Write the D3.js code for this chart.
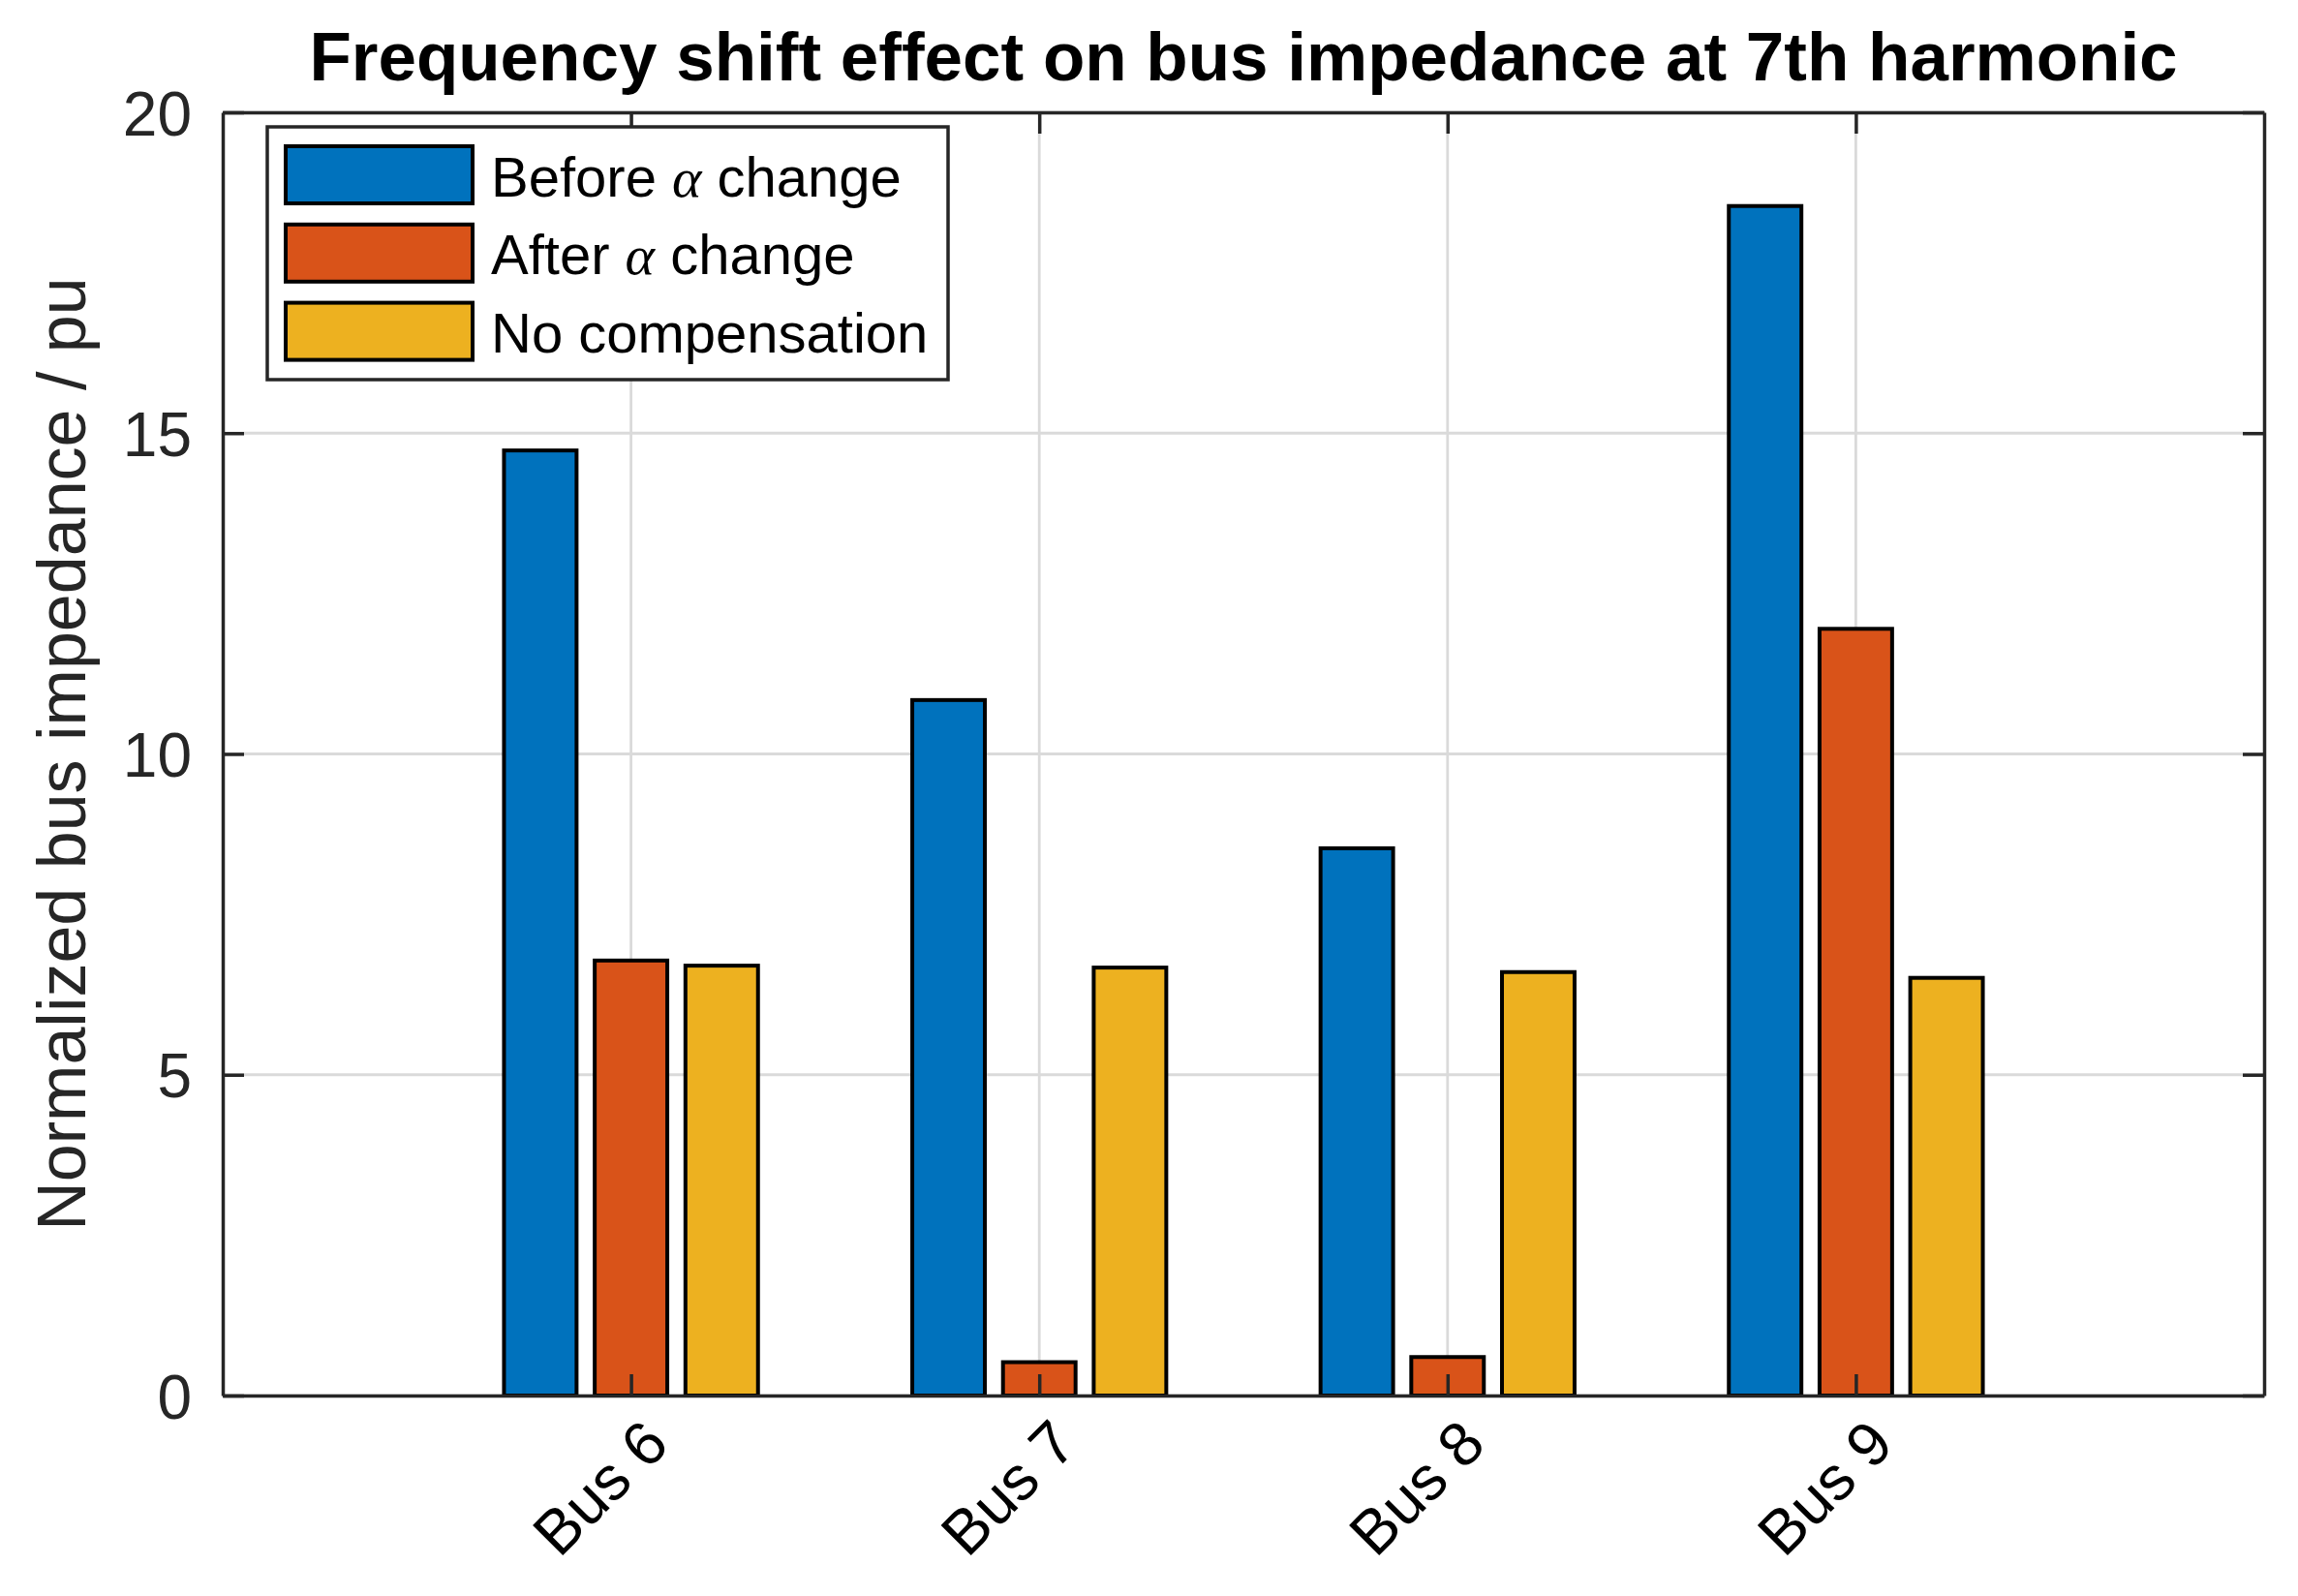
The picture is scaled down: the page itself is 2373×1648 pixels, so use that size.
<!DOCTYPE html>
<html>
<head>
<meta charset="utf-8">
<script src="https://cdn.jsdelivr.net/npm/d3@7"></script>
<style>
  body { margin: 0; background: #fff; }
  svg { display: block; font-family: "Liberation Sans", Arial, Helvetica, sans-serif; }
</style>
</head>
<body>
<svg id="chart" width="2373" height="1648"></svg>
<script>
// Данные графика
const buses = ['Bus 6', 'Bus 7', 'Bus 8', 'Bus 9'];
const beforeAlpha = [14.73, 10.84, 8.53, 18.54];
const afterAlpha = [6.78, 0.52, 0.60, 11.95];
const noCompensation = [6.70, 6.67, 6.60, 6.51];
const yTicks = [0, 5, 10, 15, 20];

const seriesNames = ['Before', 'After', 'No compensation'];
const seriesColors = ['#0072BD', '#D95319', '#EDB120'];
const seriesValues = [beforeAlpha, afterAlpha, noCompensation];

const axisColor = '#262626';
const svg = d3.select('#chart');

// Геометрия осей
const axL = 230, axR = 2338, axT = 116, axB = 1441;
const x = d3.scaleLinear().domain([0, buses.length + 1]).range([axL, axR]);
const y = d3.scaleLinear().domain([0, 20]).range([axB, axT]);

const groupStep = 0.2222;          // расстояние между столбцами в группе
const barWidth = groupStep * 0.8;  // ширина столбца

// Сетка
const grid = svg.append('g').attr('class', 'grid')
    .attr('stroke', '#dadada').attr('stroke-width', 2.8);
grid.selectAll('.gy').data(yTicks).enter().append('line')
    .attr('x1', axL).attr('x2', axR)
    .attr('y1', d => y(d)).attr('y2', d => y(d));
grid.selectAll('.gx').data(buses).enter().append('line')
    .attr('x1', (d, i) => x(i + 1)).attr('x2', (d, i) => x(i + 1))
    .attr('y1', axT).attr('y2', axB);

// Столбцы
const rows = [];
seriesValues.forEach((vals, s) => {
    vals.forEach((v, i) => rows.push({ s, i, v }));
});
svg.append('g').attr('class', 'bars')
    .selectAll('rect').data(rows).enter().append('rect')
    .attr('x', d => x(d.i + 1 + (d.s - 1) * groupStep - barWidth / 2))
    .attr('width', d => x(barWidth) - x(0))
    .attr('y', d => y(d.v))
    .attr('height', d => y(0) - y(d.v))
    .attr('fill', d => seriesColors[d.s])
    .attr('stroke', '#000')
    .attr('stroke-width', 4);

// Оси
const tickLen = 22;
const xTickVals = buses.map((d, i) => i + 1);

const axLeft = svg.append('g').attr('transform', `translate(${axL},0)`)
    .call(d3.axisLeft(y).tickValues(yTicks).tickSizeInner(-tickLen).tickSizeOuter(0).tickPadding(32));
const axRight = svg.append('g').attr('transform', `translate(${axR},0)`)
    .call(d3.axisRight(y).tickValues(yTicks).tickSizeInner(-tickLen).tickSizeOuter(0).tickFormat(''));
const axBottom = svg.append('g').attr('transform', `translate(0,${axB})`)
    .call(d3.axisBottom(x).tickValues(xTickVals).tickSizeInner(-tickLen).tickSizeOuter(0)
        .tickFormat((d, i) => buses[i]));
const axTop = svg.append('g').attr('transform', `translate(0,${axT})`)
    .call(d3.axisTop(x).tickValues(xTickVals).tickSizeInner(-tickLen).tickSizeOuter(0).tickFormat(''));

[axLeft, axRight, axBottom, axTop].forEach(ax => {
    ax.select('.domain').attr('stroke', axisColor).attr('stroke-width', 3.5);
    ax.selectAll('.tick line').attr('stroke', axisColor).attr('stroke-width', 3.5);
    ax.selectAll('text').attr('fill', axisColor)
        .style('font-family', '"Liberation Sans", Arial, Helvetica, sans-serif')
        .style('font-size', '64px');
});
axLeft.selectAll('text').attr('dy', '0.36em');
axBottom.selectAll('text')
    .attr('fill', '#000')
    .attr('y', 0).attr('dy', 0)
    .attr('text-anchor', 'end')
    .attr('transform', 'translate(41,53) rotate(-45)');

// Подпись оси Y
svg.append('text')
    .attr('transform', `translate(88,${(axT + axB) / 2}) rotate(-90)`)
    .attr('text-anchor', 'middle')
    .attr('fill', axisColor)
    .style('font-size', '70px')
    .text('Normalized bus impedance / pu');

// Заголовок
svg.append('text')
    .attr('x', (axL + axR) / 2).attr('y', 83)
    .attr('text-anchor', 'middle')
    .attr('fill', '#000')
    .style('font-size', '71px').style('font-weight', 'bold')
    .text('Frequency shift effect on bus impedance at 7th harmonic');

// Легенда
const legend = svg.append('g').attr('class', 'legend');
legend.append('rect')
    .attr('x', 276).attr('y', 131).attr('width', 703).attr('height', 261)
    .attr('fill', '#fff').attr('stroke', axisColor).attr('stroke-width', 3.5);

const legendRows = legend.selectAll('g.row').data(seriesNames).enter().append('g')
    .attr('class', 'row')
    .attr('transform', (d, i) => `translate(0,${180.5 + i * 80.8})`);
legendRows.append('rect')
    .attr('x', 295).attr('y', -29.5).attr('width', 193).attr('height', 59)
    .attr('fill', (d, i) => seriesColors[i])
    .attr('stroke', '#000').attr('stroke-width', 4);

const legendText = legendRows.append('text')
    .attr('x', 507).attr('y', 22)
    .attr('fill', '#000')
    .style('font-size', '58px');
legendText.each(function (d) {
    const t = d3.select(this);
    if (d === 'No compensation') {
        t.text(d);
    } else {
        t.append('tspan').text(d + ' ');
        t.append('tspan')
            .style('font-family', '"Liberation Serif", "Times New Roman", serif')
            .style('font-style', 'italic')
            .text('\u03b1');
        t.append('tspan').text(' change');
    }
});
</script>
</body>
</html>
